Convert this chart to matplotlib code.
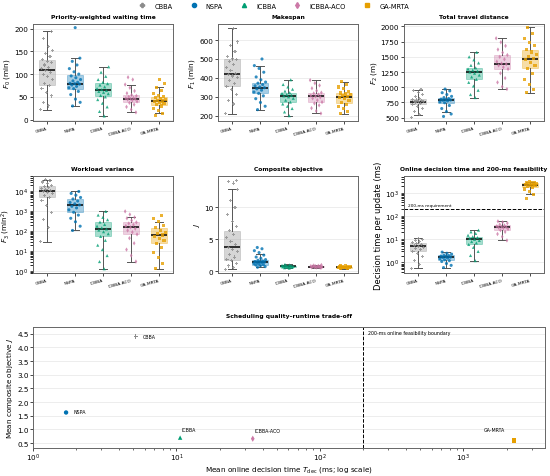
import numpy as np
import matplotlib
matplotlib.use('Agg')
import matplotlib.pyplot as plt
from matplotlib.lines import Line2D

plt.rcParams['font.family'] = ['DejaVu Sans']

methods = ['CBBA', 'NSPA', 'ICBBA', 'ICBBA-ACO', 'GA-MRTA']
colors = ['#8c8c8c', '#0072B2', '#009E73', '#CC79A7', '#E69F00']
markers = ['P', 'o', '^', 'd', 's']

# per-run values (approximate)
f0_vals = [
    [22, 30, 38, 52, 60, 68, 75, 80, 88, 95, 100, 104, 108, 112, 115, 120, 125, 128, 132, 138, 145, 152, 160, 178, 194],
    [30, 38, 45, 55, 62, 68, 70, 73, 76, 78, 79, 80, 82, 85, 88, 92, 96, 100, 105, 112, 120, 128, 135, 202],
    [8, 18, 28, 36, 44, 50, 53, 57, 60, 62, 64, 66, 68, 72, 76, 79, 82, 88, 95, 104, 116],
    [16, 22, 28, 33, 37, 40, 42, 44, 45, 46, 47, 48, 50, 52, 54, 58, 63, 70, 77, 88, 93],
    [10, 14, 20, 25, 30, 33, 36, 38, 40, 41, 42, 44, 46, 48, 50, 53, 58, 64, 71, 80, 88],
]
f1_vals = [
    [210, 262, 280, 310, 340, 355, 370, 385, 400, 410, 418, 425, 440, 455, 470, 485, 495, 500, 515, 540, 570, 590, 662],
    [232, 250, 270, 290, 305, 318, 325, 335, 342, 348, 352, 358, 365, 372, 378, 390, 405, 430, 450, 465, 500],
    [200, 220, 238, 250, 262, 272, 282, 292, 300, 305, 308, 312, 318, 322, 330, 340, 352, 365, 390],
    [212, 225, 240, 255, 265, 272, 282, 292, 298, 302, 306, 312, 318, 322, 332, 345, 360, 372, 388],
    [210, 222, 238, 250, 260, 268, 280, 290, 296, 300, 305, 310, 315, 320, 330, 342, 352, 365, 380],
]
f2_vals = [
    [500, 550, 600, 650, 690, 720, 735, 750, 760, 765, 770, 780, 790, 800, 820, 850, 880, 920, 950, 970],
    [520, 560, 600, 650, 700, 745, 760, 775, 785, 790, 795, 805, 815, 830, 850, 880, 910, 940, 970],
    [830, 880, 950, 1020, 1080, 1130, 1170, 1200, 1230, 1250, 1265, 1280, 1300, 1320, 1360, 1400, 1450, 1500, 1575],
    [970, 1010, 1080, 1150, 1230, 1300, 1330, 1360, 1380, 1390, 1420, 1460, 1500, 1530, 1570, 1620, 1680, 1740, 1805],
    [910, 960, 1050, 1130, 1220, 1310, 1360, 1410, 1450, 1470, 1500, 1540, 1580, 1620, 1680, 1740, 1800, 1880, 1985],
]
f3_vals = [
    [30, 150, 400, 900, 2000, 3500, 5000, 6500, 8000, 9000, 10000, 11000, 12500, 14000, 16000, 18000, 21000, 25000, 30000, 35000, 40000],
    [110, 180, 300, 450, 650, 900, 1200, 1500, 1800, 2100, 2400, 2800, 3300, 4200, 5000, 6500, 8000, 10000],
    [1.3, 3, 6, 12, 20, 35, 55, 75, 95, 115, 130, 150, 180, 220, 290, 380, 500, 650, 1000],
    [3, 6, 12, 25, 45, 70, 90, 110, 135, 160, 185, 210, 245, 280, 350, 450, 500, 700, 1000],
    [1.3, 2.5, 5, 9, 15, 25, 35, 45, 55, 65, 75, 90, 110, 150, 200, 310, 450, 600],
]
j_vals = [
    [0.3, 0.5, 0.8, 1.2, 1.6, 1.8, 2.2, 2.6, 3.0, 3.4, 3.75, 4.1, 4.6, 5.2, 5.8, 6.3, 7.0, 7.8, 8.8, 10.0, 11.0, 12.8, 13.8, 14.0, 14.2],
    [0.6, 0.7, 0.85, 0.95, 1.0, 1.1, 1.2, 1.3, 1.35, 1.4, 1.45, 1.5, 1.6, 1.7, 1.8, 2.0, 2.2, 2.5, 2.9, 3.2, 3.5, 3.7],
    [0.45, 0.52, 0.58, 0.6, 0.65, 0.7, 0.73, 0.75, 0.77, 0.8, 0.83, 0.85, 0.9, 0.97, 1.05],
    [0.5, 0.55, 0.58, 0.6, 0.63, 0.66, 0.68, 0.7, 0.73, 0.76, 0.78, 0.82, 0.88, 0.95],
    [0.4, 0.45, 0.5, 0.52, 0.55, 0.58, 0.6, 0.62, 0.65, 0.68, 0.7, 0.75, 0.8, 0.85],
]
tdec_vals = [
    [0.55, 0.8, 1.2, 1.8, 2.5, 3.0, 3.5, 4.0, 4.5, 5.0, 5.5, 6.0, 6.5, 7.0, 8.0, 9.0, 10.0, 11.0],
    [0.6, 0.75, 0.9, 1.1, 1.2, 1.3, 1.45, 1.55, 1.65, 1.7, 1.8, 1.9, 2.0, 2.1, 2.3, 2.5, 2.8],
    [1.2, 2.0, 3.0, 4.5, 6.0, 7.0, 8.0, 9.0, 10.0, 11.0, 12.0, 13.0, 15.0, 18.0, 21.0, 25.0],
    [9, 13, 17, 21, 25, 28, 30, 32, 33, 35, 37, 40, 44, 50, 55, 60],
    [600, 900, 1200, 1500, 1800, 1900, 2050, 2200, 2300, 2400, 2500, 2650, 2750, 2900, 3000, 3100],
]

# box statistics: whisker low, Q1, median, Q3, whisker high
f0_box = [[22, 77, 108, 130, 194], [30, 68, 79, 98, 135], [8, 52, 64, 80, 116],
          [16, 38, 46, 53, 77], [14, 33, 41, 50, 71]]
f1_box = [[210, 355, 418, 498, 662], [232, 320, 348, 375, 465], [200, 272, 305, 322, 390],
          [212, 270, 302, 322, 388], [210, 268, 300, 320, 380]]
f2_box = [[550, 720, 765, 800, 950], [600, 745, 790, 830, 970], [830, 1130, 1250, 1320, 1575],
          [970, 1300, 1385, 1530, 1805], [910, 1310, 1470, 1620, 1985]]
f3_box = [[30, 5000, 10000, 18000, 40000], [110, 900, 2100, 4200, 10000], [1.3, 55, 130, 290, 1000],
          [3, 70, 160, 280, 500], [1.3, 25, 65, 150, 310]]
j_box = [[0.3, 1.8, 3.75, 6.3, 12.8], [0.6, 1.0, 1.4, 1.7, 2.6], [0.45, 0.6, 0.75, 0.85, 1.05],
         [0.5, 0.6, 0.68, 0.78, 0.95], [0.4, 0.52, 0.6, 0.7, 0.85]]
tdec_box = [[0.55, 3.0, 5.0, 7.0, 11.0], [0.6, 1.3, 1.7, 2.1, 2.8], [1.2, 6.0, 10.0, 13.0, 25.0],
            [9, 25, 33, 40, 60], [900, 1900, 2300, 2700, 3100]]

# trade-off summary
mean_tdec = [5.2, 1.7, 10.6, 34, 2250]
mean_j = [4.4, 1.62, 0.70, 0.66, 0.60]

panels = [
    ('Priority-weighted waiting time', '$F_0$ (min)', f0_vals, f0_box, False),
    ('Makespan', '$F_1$ (min)', f1_vals, f1_box, False),
    ('Total travel distance', '$F_2$ (m)', f2_vals, f2_box, False),
    ('Workload variance', '$F_3$ (min$^2$)', f3_vals, f3_box, True),
    ('Composite objective', '$J$', j_vals, j_box, False),
    ('Online decision time and 200-ms feasibility', 'Decision time per update (ms)', tdec_vals, tdec_box, True),
]

fig = plt.figure(figsize=(5.5, 4.77), dpi=100)
W, H = 550.0, 477.0
lefts = [33, 218, 404]
tops = [25, 177]

for k, (title, ylab, vals, box, logy) in enumerate(panels):
    r, c = divmod(k, 3)
    ax = fig.add_axes([lefts[c] / W, 1 - (tops[r] + 97) / H, 140 / W, 97 / H])
    stats = []
    for b in box:
        stats.append(dict(whislo=b[0], q1=b[1], med=b[2], q3=b[3], whishi=b[4], fliers=[]))
    bp = ax.bxp(stats, positions=range(5), widths=0.6, patch_artist=True, showfliers=False,
                boxprops=dict(linewidth=0.6),
                whiskerprops=dict(color='#555555', linewidth=0.7),
                capprops=dict(color='#555555', linewidth=0.7),
                medianprops=dict(color='black', linewidth=1.1))
    for i, patch in enumerate(bp['boxes']):
        patch.set_facecolor(colors[i])
        patch.set_alpha(0.35)
        patch.set_edgecolor(colors[i])
    for i, v in enumerate(vals):
        n = len(v)
        jit = ((np.arange(n) * 0.618034 + 0.3 * i) % 1.0 - 0.5) * 0.44
        ax.scatter(i + jit, v, s=5, color=colors[i], marker=markers[i], alpha=0.8,
                   edgecolors='none', zorder=3)
    if logy:
        ax.set_yscale('log')
    ax.set_xlim(-0.5, 4.5)
    ax.set_xticks(range(5))
    ax.set_xticklabels(methods, rotation=15, ha='right', fontsize=3.2, rotation_mode='anchor')
    ax.tick_params(axis='y', labelsize=5.2, length=2, width=0.5, pad=1.5)
    ax.tick_params(axis='x', length=2, width=0.5, pad=1.5)
    ax.set_title(title, fontsize=4.3, fontweight='bold', pad=4)
    ax.set_ylabel(ylab, fontsize=5.2, labelpad=1.5)
    ax.yaxis.grid(True, color='#e6e6e6', linewidth=0.5)
    ax.set_axisbelow(True)
    for sp in ax.spines.values():
        sp.set_color('#666666')
        sp.set_linewidth(0.7)

    if k == 0:
        ax.set_ylim(-3, 210)
        ax.set_yticks([0, 50, 100, 150, 200])
    elif k == 1:
        ax.set_ylim(172, 685)
    elif k == 2:
        ax.set_ylim(445, 2040)
        ax.set_yticks([500, 750, 1000, 1250, 1500, 1750, 2000])
    elif k == 3:
        ax.set_ylim(0.8, 6e4)
    elif k == 4:
        ax.set_ylim(-0.3, 14.9)
    elif k == 5:
        ax.set_ylim(0.35, 5500)
        ax.set_ylabel(ylab, fontsize=6, labelpad=1.5)
        ax.axhline(200, color='black', linestyle='--', linewidth=0.7, zorder=2)
        ax.text(-0.35, 200 * 1.2, '200-ms requirement', fontsize=3.1, va='bottom', ha='left',
                bbox=dict(facecolor='white', edgecolor='none', pad=0.5), zorder=4)

# bottom trade-off panel
ax = fig.add_axes([33 / W, 1 - 449 / H, 512 / W, 121 / H])
offsets = [(5, 0), (5, 1), (1, 6), (1, 6), (-14, 8)]
for i in range(5):
    ax.scatter(mean_tdec[i], mean_j[i], s=10, color=colors[i], marker=markers[i], zorder=3,
               edgecolors='none')
    ax.annotate(methods[i], (mean_tdec[i], mean_j[i]), xytext=offsets[i],
                textcoords='offset points', fontsize=3.4, va='center',
                ha='left' if i < 4 else 'center')
ax.set_xscale('log')
ax.set_xlim(1, 3700)
ax.set_ylim(0.32, 4.75)
ax.set_yticks([0.5, 1.0, 1.5, 2.0, 2.5, 3.0, 3.5, 4.0, 4.5])
ax.axvline(200, color='black', linestyle='--', linewidth=0.7)
ax.text(215, 4.63, '200-ms online feasibility boundary', fontsize=3.4, va='top', ha='left')
ax.yaxis.grid(True, color='#e6e6e6', linewidth=0.5)
ax.set_axisbelow(True)
ax.tick_params(labelsize=5.2, length=2, width=0.5, pad=1)
ax.tick_params(which='minor', length=1.2, width=0.4)
ax.set_xlabel('Mean online decision time $T_{\\mathrm{dec}}$ (ms; log scale)', fontsize=5.2, labelpad=0.5)
ax.set_ylabel('Mean composite objective $J$', fontsize=5.2, labelpad=1.5)
ax.set_title('Scheduling quality\u2013runtime trade-off', fontsize=4.3, fontweight='bold', pad=7)
for sp in ax.spines.values():
    sp.set_color('#666666')
    sp.set_linewidth(0.7)

handles = [Line2D([], [], linestyle='none', marker=markers[i], color=colors[i], markersize=3,
                  label=methods[i]) for i in range(5)]
fig.legend(handles=handles, loc='upper center', bbox_to_anchor=(0.495, 1.005), ncol=5, frameon=False,
           fontsize=4.8, columnspacing=2.2, handletextpad=0.8)

fig.savefig('out.png', dpi=100)
